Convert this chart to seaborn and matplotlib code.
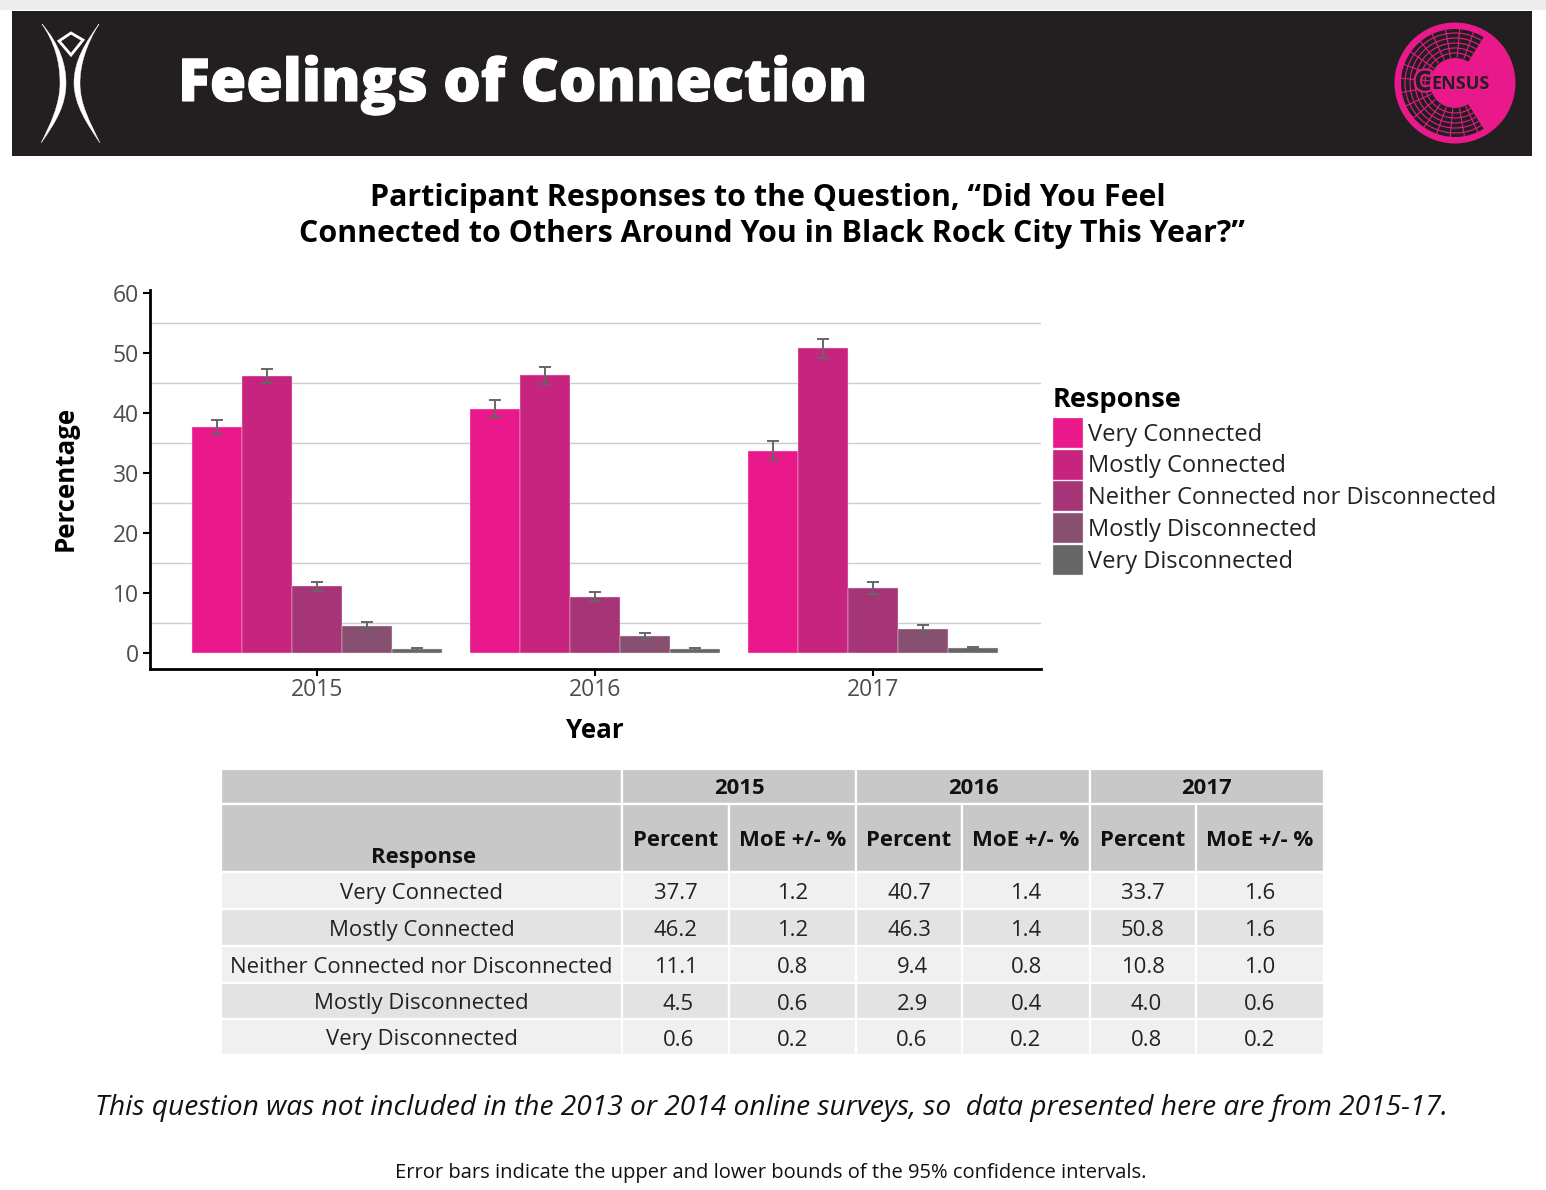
import numpy as np
import pandas as pd
import matplotlib
matplotlib.use('Agg')
import matplotlib.pyplot as plt
import matplotlib.patheffects as pe
import seaborn as sns
from matplotlib.patches import Rectangle, Circle, Wedge, Arc, PathPatch, Polygon
from matplotlib.path import Path

years = ['2015', '2016', '2017']
responses = ['Very Connected', 'Mostly Connected', 'Neither Connected nor Disconnected',
             'Mostly Disconnected', 'Very Disconnected']
pct_2015 = ['37.7', '46.2', '11.1', '4.5', '0.6']
pct_2016 = ['40.7', '46.3', '9.4', '2.9', '0.6']
pct_2017 = ['33.7', '50.8', '10.8', '4.0', '0.8']
moe_2015 = ['1.2', '1.2', '0.8', '0.6', '0.2']
moe_2016 = ['1.4', '1.4', '0.8', '0.4', '0.2']
moe_2017 = ['1.6', '1.6', '1.0', '0.6', '0.2']
colors = ['#E9198B', '#C6247F', '#A63577', '#875070', '#666666']

W, H = 1546, 1190
FONT = 'Open Sans'
DARK = '#231F20'
PINK = '#E9198B'

# long form table for seaborn
rows = []
for year, pcts, moes in zip(years, [pct_2015, pct_2016, pct_2017], [moe_2015, moe_2016, moe_2017]):
    for resp, p, m in zip(responses, pcts, moes):
        rows.append({'Year': year, 'Response': resp, 'Percent': float(p), 'MoE': float(m)})
df = pd.DataFrame(rows)

sns.set_theme(style='white')
plt.rcParams['font.family'] = [FONT, 'DejaVu Sans']

fig = plt.figure(figsize=(W / 100, H / 100), dpi=100, facecolor='white')

# overlay in pixel coordinates for banner, table and notes
bg = fig.add_axes([0, 0, 1, 1], zorder=0)
bg.set_xlim(0, W)
bg.set_ylim(H, 0)
bg.axis('off')

# top strip and banner
bg.add_patch(Rectangle((0, 0), W, 10, fc='#EDEDED', ec='none'))
bg.add_patch(Rectangle((12, 11), 1520, 145, fc=DARK, ec='none'))
banner = bg.text(178, 78, 'Feelings of Connection', color='white', fontsize=42.5, fontweight=800,
                 family=FONT, ha='left', va='center_baseline')
banner.set_path_effects([pe.withStroke(linewidth=0.8, foreground='white')])

# burning man figure logo
C4 = Path.CURVE4
arm_codes = [Path.MOVETO, C4, C4, C4, C4, C4, C4, C4, C4, C4, C4, C4, C4]
left_arm = [(42, 24), (54, 42), (60, 60), (60, 83), (60, 105), (50, 125), (41, 143),
            (56, 122), (66, 105), (66, 83), (66, 65), (60, 45), (42, 24)]
right_arm = [(99, 24), (86, 42), (74, 60), (74, 83), (74, 105), (88, 125), (100, 143),
             (90, 122), (80, 105), (80, 83), (80, 65), (86, 45), (99, 24)]
for pts in [left_arm, right_arm]:
    bg.add_patch(PathPatch(Path(pts, arm_codes), fc='white', ec='white', lw=0.3))
bg.add_patch(Polygon([(71, 33), (83, 40), (71, 55), (59, 41)], closed=True, fc=DARK, ec='white', lw=2))

# census logo
cx, cy = 1455, 83
bg.add_patch(Circle((cx, cy), 60.5, fc=PINK, ec='none'))
bg.add_patch(Wedge((cx, cy), 54, 58, 302, width=29, fc=DARK, ec='none'))
for r in [30, 35, 40, 45, 50]:
    bg.add_patch(Arc((cx, cy), 2 * r, 2 * r, theta1=58, theta2=302, ec=PINK, lw=0.8))
for a in np.arange(70, 300, 15):
    t = np.radians(a)
    bg.plot([cx + 26 * np.cos(t), cx + 54 * np.cos(t)], [cy - 26 * np.sin(t), cy - 54 * np.sin(t)],
            color=PINK, lw=0.8)
c_mark = bg.text(1423, 83, 'C', color=DARK, fontsize=20, fontweight='bold', ha='center', va='center')
c_mark.set_path_effects([pe.withStroke(linewidth=3, foreground=PINK)])
bg.text(1461, 84, 'ENSUS', color=DARK, fontsize=13, fontweight='bold', ha='center', va='center')

# chart titles
bg.text(768, 198, 'Participant Responses to the Question, \u201cDid You Feel', fontsize=21.85,
        fontweight='bold', ha='center', va='center', color='black')
bg.text(771.5, 234, 'Connected to Others Around You in Black Rock City This Year?\u201d', fontsize=21.85,
        fontweight='bold', ha='center', va='center', color='black')

# bar chart
left, right, top, bottom = 150, 1041, 290, 669
ax = fig.add_axes([left / W, 1 - bottom / H, (right - left) / W, (bottom - top) / H], zorder=2)
ax.patch.set_alpha(0)

sns.barplot(data=df, x='Year', y='Percent', hue='Response', hue_order=responses, order=years,
            palette=colors, width=0.9, gap=0, dodge=True, errorbar=None, saturation=1,
            edgecolor='#F3D9E8', linewidth=0.3, zorder=2, ax=ax)

for resp, cont in zip(responses, ax.containers):
    sub = df[df['Response'] == resp]
    xs = [b.get_x() + b.get_width() / 2 for b in cont]
    ax.errorbar(xs, sub['Percent'], yerr=sub['MoE'], fmt='none', ecolor='#666666',
                elinewidth=1.4, capsize=4, capthick=1.4, zorder=3)

ax.set_xlim(-167 / 278, 724 / 278)
ax.set_ylim(-16 / 6, 363 / 6)
ax.set_yticks(np.arange(0, 61, 10))
ax.set_yticks(np.arange(5, 60, 10), minor=True)
ax.grid(axis='y', which='minor', color='#CCCCCC', lw=1, zorder=0)
ax.grid(axis='y', which='major', visible=False)
ax.grid(axis='x', visible=False)
ax.set_axisbelow(True)
ax.tick_params(axis='y', which='minor', length=0)
ax.tick_params(axis='both', which='major', length=5, width=1.5, color='black', left=True, bottom=True,
               labelsize=16.5, labelcolor='#4D4D4D', pad=3)
ax.tick_params(axis='x', which='major', pad=1.5)
for s in ['top', 'right']:
    ax.spines[s].set_visible(False)
for s in ['left', 'bottom']:
    ax.spines[s].set_color('black')
    ax.spines[s].set_linewidth(2)

ax.set_xlabel('Year', fontsize=18.6, fontweight='bold', color='black')
ax.set_ylabel('Percentage', fontsize=18.6, fontweight='bold', color='black')
ax.xaxis.set_label_coords((595 - left) / (right - left), (bottom - 730) / (bottom - top), transform=ax.transAxes)
ax.xaxis.label.set_verticalalignment('center')
ax.yaxis.set_label_coords((65 - left) / (right - left), (bottom - 478) / (bottom - top), transform=ax.transAxes)
ax.yaxis.label.set_verticalalignment('center')

fs = 17
sns.move_legend(ax, 'upper left', bbox_to_anchor=(1053 / W, 1 - 387 / H), bbox_transform=fig.transFigure,
                title='Response', frameon=False, fontsize=fs,
                title_fontproperties={'family': FONT, 'weight': 'bold', 'size': 19.5},
                handlelength=1.27, handleheight=1.578, handletextpad=0.21, labelspacing=0.074,
                borderpad=0, borderaxespad=0, alignment='left')
leg = ax.get_legend()
leg._legend_box.sep = 3.5  # a bit more room under the legend title
leg.get_title().set_color('black')
for t in leg.get_texts():
    t.set_color('#222222')

# table
col_x = [221, 622, 729, 856, 962, 1090, 1196, 1324]
row_y = [769, 804, 872, 909, 946, 983, 1019, 1055]
HEAD = '#C8C8C8'
TS = 15.9

def cell(x0, x1, y0, y1, fc):
    bg.add_patch(Rectangle((x0, y0), x1 - x0, y1 - y0, fc=fc, ec='white', lw=1.6))

def head_text(x, y, s):
    bg.text(x, y, s, fontsize=TS, fontweight='bold', ha='center', va='center', color='#111111')

cell(col_x[0], col_x[1], row_y[0], row_y[1], HEAD)
cell(col_x[0], col_x[1], row_y[1], row_y[2], HEAD)
head_text((col_x[0] + col_x[1]) / 2 + 2.5, 857.5, 'Response')
for i, year in enumerate(years):
    a, b, c = col_x[1 + 2 * i], col_x[2 + 2 * i], col_x[3 + 2 * i]
    cell(a, c, row_y[0], row_y[1], HEAD)
    head_text((a + c) / 2, 788.5, year)
    cell(a, b, row_y[1], row_y[2], HEAD)
    cell(b, c, row_y[1], row_y[2], HEAD)
    head_text((a + b) / 2, 840.5, 'Percent')
    head_text((b + c) / 2, 840.5, 'MoE +/- %')

cols = [pct_2015, moe_2015, pct_2016, moe_2016, pct_2017, moe_2017]
for r, resp in enumerate(responses):
    y0, y1 = row_y[2 + r], row_y[3 + r]
    fc = '#F0F0F0' if r % 2 == 0 else '#E3E3E3'
    cell(col_x[0], col_x[1], y0, y1, fc)
    bg.text((col_x[0] + col_x[1]) / 2, (y0 + y1) / 2 + 3, resp, fontsize=TS, ha='center', va='center', color='#222222')
    for c, vals in enumerate(cols):
        x0, x1 = col_x[1 + c], col_x[2 + c]
        cell(x0, x1, y0, y1, fc)
        # short percent values sit a bit right of centre in the original
        off = 3 if c % 2 == 0 and len(vals[r]) == 3 else 0
        bg.text((x0 + x1) / 2 + off, (y0 + y1) / 2 + 3, vals[r], fontsize=TS, ha='center', va='center', color='#222222')

# notes
bg.text(771, 1108, 'This question was not included in the 2013 or 2014 online surveys, so  data presented here are from 2015-17.',
        fontsize=20.27, style='italic', ha='center', va='center', color='#111111')
bg.text(771, 1173, 'Error bars indicate the upper and lower bounds of the 95% confidence intervals.',
        fontsize=14.5, ha='center', va='center', color='#111111')

fig.savefig('out.png', dpi=100)
